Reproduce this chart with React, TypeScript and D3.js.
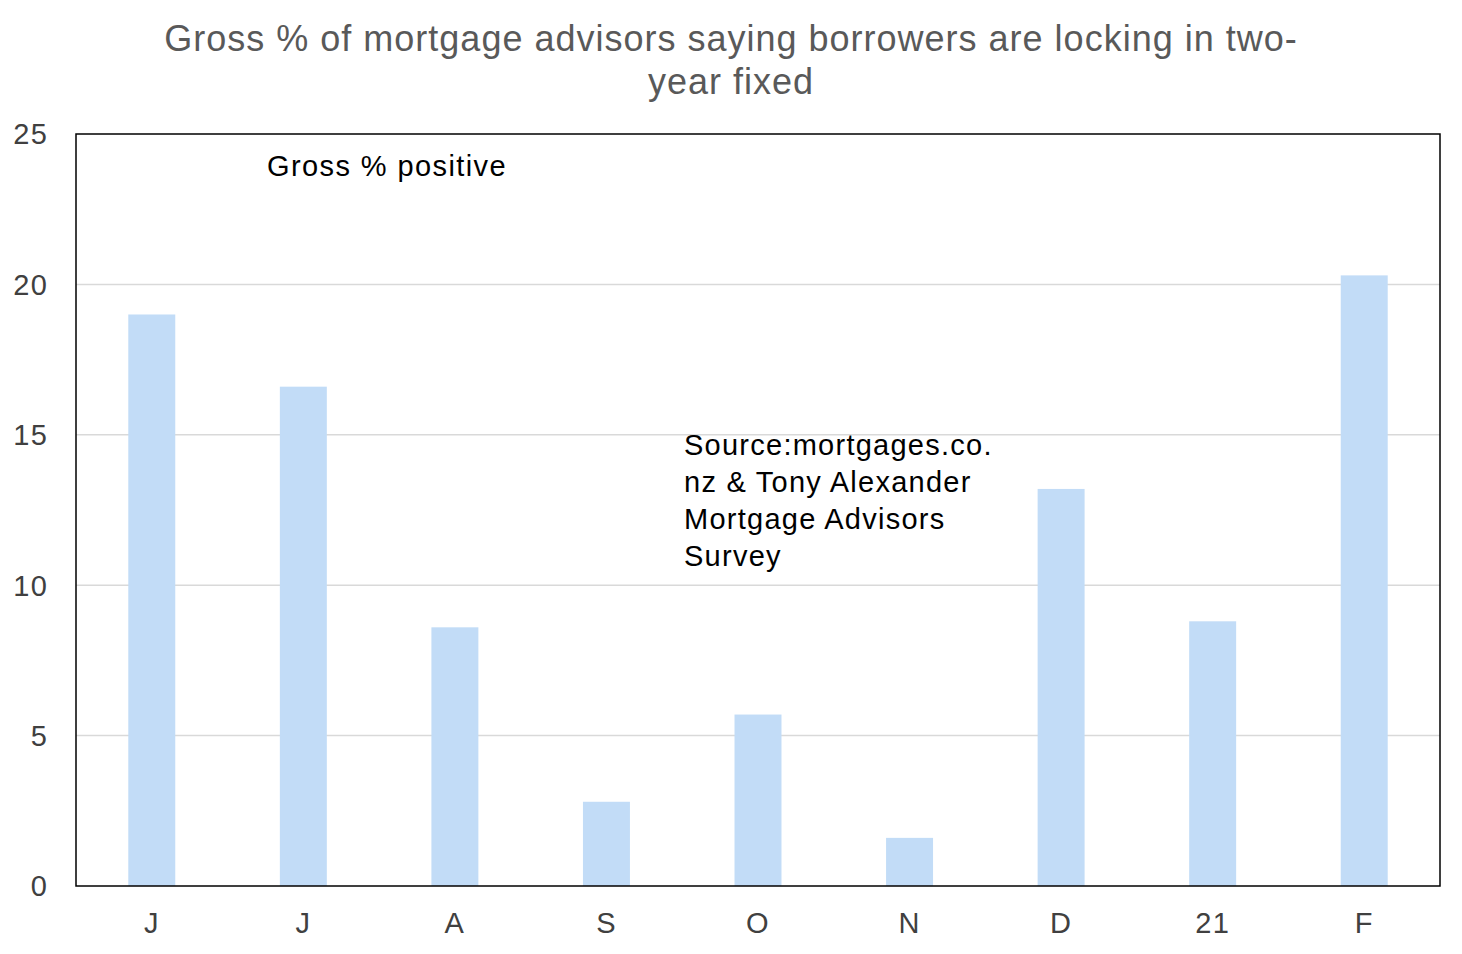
import React from "react";
import * as d3 from "d3";

const categories = ["J", "J2", "A", "S", "O", "N", "D", "21", "F"];
const tickLabels = ["J", "J", "A", "S", "O", "N", "D", "21", "F"];
const values = [19.0, 16.6, 8.6, 2.8, 5.7, 1.6, 13.2, 8.8, 20.3];
const yTicks = [0, 5, 10, 15, 20, 25];
const titleLines = ["Gross % of mortgage advisors saying borrowers are locking in two-", "year fixed"];
const sourceLines = ["Source:mortgages.co.", "nz & Tony Alexander", "Mortgage Advisors", "Survey"];

const W = 1462, H = 954;
const m = { left: 76, right: 1440, top: 134, bottom: 886 };

export default function App() {
  const x = d3.scaleBand<string>().domain(categories).range([m.left, m.right]).paddingInner(0.69).paddingOuter(0.345);
  const y = d3.scaleLinear().domain([0, 25]).range([m.bottom, m.top]);
  const font = "'Liberation Sans', Arial, sans-serif";
  return (
    <svg width={W} height={H} style={{ position: "absolute", left: 0, top: 0, background: "#fff" }} fontFamily={font}>
      {titleLines.map((t, i) => (
        <text key={i} x={731} y={51 + i * 43} textAnchor="middle" fontSize={36} letterSpacing={1} fill="#595959">{t}</text>
      ))}
      {yTicks.filter(t => t > 0 && t < 25).map(t => (
        <line key={t} x1={m.left} x2={m.right} y1={y(t)} y2={y(t)} stroke="#d9d9d9" strokeWidth={1.5} />
      ))}
      {values.map((v, i) => (
        <rect key={i} x={x(categories[i])} y={y(v)} width={x.bandwidth()} height={y(0) - y(v)} fill="#c2dcf7" />
      ))}
      <rect x={m.left} y={m.top} width={m.right - m.left} height={m.bottom - m.top} fill="none" stroke="#000" strokeWidth={1.5} />
      {yTicks.map(t => (
        <text key={t} x={48} y={y(t)} dy="0.36em" textAnchor="end" fontSize={29} letterSpacing={1.2} fill="#404040">{t}</text>
      ))}
      {categories.map((c, i) => (
        <text key={c} x={(x(c) as number) + x.bandwidth() / 2} y={933} textAnchor="middle" fontSize={29} letterSpacing={1.2} fill="#404040">{tickLabels[i]}</text>
      ))}
      <text x={267} y={176} fontSize={29} letterSpacing={1.4} fill="#000">Gross % positive</text>
      {sourceLines.map((t, i) => (
        <text key={i} x={684} y={455 + i * 37} fontSize={29} letterSpacing={1.25} fill="#000">{t}</text>
      ))}
    </svg>
  );
}
